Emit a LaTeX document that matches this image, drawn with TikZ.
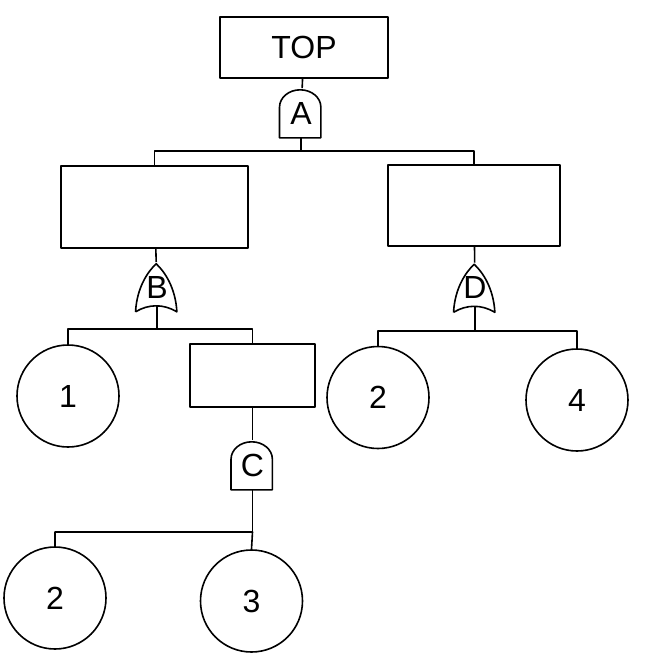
\documentclass[tikz,border=0pt]{standalone}
\usepackage{fontspec}
\setmainfont{Liberation Sans}
\tikzset{
    event/.style={draw, rectangle, inner sep=0pt},
    basic/.style={draw, circle, minimum size=76.5pt, inner sep=0pt},
    gate/.style={rectangle, inner sep=0pt, minimum width=31pt, minimum height=36pt},
}
\newcommand{\andgate}[1]{%
    \draw[shift={(#1.south west)}] (0pt,0pt) -- (31pt,0pt) -- (31pt,23pt)
        arc[start angle=0, end angle=180, x radius=15.5pt, y radius=13pt] -- cycle;}
\newcommand{\orgate}[1]{%
    \draw[shift={(#1.south west)}] (0pt,0pt) .. controls (1pt,18pt) and (9pt,30pt) .. (15.5pt,36pt)
        .. controls (22pt,30pt) and (30pt,18pt) .. (31pt,0pt)
        .. controls (21pt,6pt) and (10pt,6pt) .. (0pt,0pt);}
\begin{document}
\begin{tikzpicture}[x=0.75pt, y=-0.75pt, line width=1.2pt, line join=round,
        font=\fontsize{24pt}{28pt}\selectfont]
        \useasboundingbox (0,0) rectangle (649,661);
        % events
        \node[event, minimum width=126pt, minimum height=45.75pt] (top) at (304,47.5) {TOP};
        \node[event, minimum width=140.25pt, minimum height=61.5pt] (evL) at (154.5,207) {};
        \node[event, minimum width=129pt, minimum height=60.75pt] (evR) at (474,205.5) {};
        \node[event, minimum width=93.75pt, minimum height=47.25pt] (evM) at (252.5,375.5) {};
        % basic events
        \node[basic] (b1) at (68,396) {1};
        \node[basic] (b2r) at (378,397.5) {2};
        \node[basic] (b4) at (577,400) {4};
        \node[basic] (b2l) at (55,598) {2};
        \node[basic] (b3) at (251.5,601) {3};
        % gates
        \node[gate] (gA) at (301,113) {A};
        \node[gate] (gB) at (157,287) {B};
        \node[gate] (gC) at (252.5,465) {C};
        \node[gate] (gD) at (475,287.5) {D};
        \andgate{gA}
        \orgate{gB}
        \andgate{gC}
        \orgate{gD}
        % junctions
        \coordinate (jA) at (301,151);
        \coordinate (jB) at (157,329);
        \coordinate (jC) at (252.5,532);
        \coordinate (jD) at (475,331);
        % connections
        \draw (top) -- (gA);
        \draw (gA) -- (jA);
        \draw (evL.north) |- (jA) -| (evR.north);
        \draw (evL) -- (gB);
        \draw ([yshift=4.5pt]gB.south) -- (jB);
        \draw (b1.north) |- (jB) -| (evM.north);
        \draw (evR) -- (gD);
        \draw ([yshift=4.5pt]gD.south) -- (jD);
        \draw (b2r.north) |- (jD) -| (b4.north);
        \draw (evM) -- (gC);
        \draw (gC) -- (jC);
        \draw (b2l.north) |- (jC) -- (b3.north);
    \end{tikzpicture}
\end{document}
